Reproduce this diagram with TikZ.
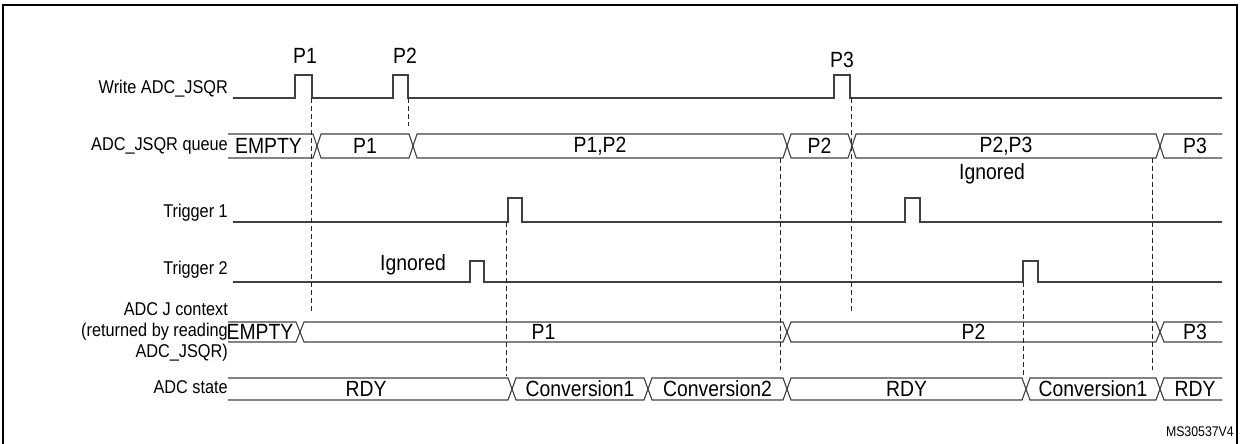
\documentclass[tikz,border=0pt]{standalone}
\usepackage{fontspec}
\setmainfont[FakeStretch=0.88]{Liberation Sans}
\usetikzlibrary{calc}

\tikzset{
	sig/.style={line width=1.1pt,black!75},
	guide/.style={dash pattern=on 5pt off 3pt,line width=1pt,black!85},
	lbl/.style={inner sep=0pt,anchor=east,align=right},
	txt/.style={inner sep=0pt,font=\fontsize{22}{24}\selectfont}
}

\begin{document}
\begin{tikzpicture}[x=1pt,y=-1pt,font=\fontsize{18.5}{21}\selectfont]

\useasboundingbox (0,0) rectangle (1240,444);
\draw [line width=1.5pt] (3,444) -- (3,5) -- (1237,5) -- (1237,444);

% row labels
\node [lbl] (lw) at (228,89) {Write ADC\_JSQR};
\node [lbl] (lq) at (228,146) {ADC\_JSQR queue};
\node [lbl] (lt1) at (228,213) {Trigger 1};
\node [lbl] (lt2) at (228,270) {Trigger 2};
\node [lbl] (lc) at (228,332) {ADC J context\\(returned by reading\\ADC\_JSQR)};
\node [lbl] (ls) at (228,387) {ADC state};

% write pulses
\draw [sig] (233,98) -| (295,75) -| (312,98) -| (393,75) -| (408,98)
	-| (834,75) -| (850,98) -- (1222,98);
\node [txt] (p1) at (305,56) {P1};
\node [txt] (p2) at (405,56) {P2};
\node [txt] (p3) at (842,60) {P3};

% triggers
\draw [sig] (233,222) -| (508,198) -| (522,222) -| (905,198) -| (920,222) -- (1222,222);
\draw [sig] (233,282) -| (470,261) -| (484,282) -| (1023,261) -| (1038,282) -- (1222,282);
\node [txt] (ig2) at (413,265) {Ignored};
\node [txt] (ig1) at (992,174) {Ignored};

% buses
\begin{scope}
\clip (228,100) rectangle (1222,410);
\foreach \a/\b/\t/\n in {220/317/EMPTY/q0,317/413/P1/q1,413/787/{P1,P2}/q2,787/852/P2/q3,852/1160/{P2,P3}/q4,1160/1230/P3/q5} {
	\draw [sig] (\a,146) -- (\a+4,134) -- (\b-4,134) -- (\b,146) -- (\b-4,158) -- (\a+4,158) -- cycle;
	\node [txt] (\n) at ($(\a,146)!.5!(\b,146)$) {\t};
}
\foreach \a/\b/\t/\n in {220/300/EMPTY/c0,300/787/P1/c1,787/1160/P2/c2,1160/1230/P3/c3} {
	\draw [sig] (\a,332) -- (\a+4,322) -- (\b-4,322) -- (\b,332) -- (\b-4,342) -- (\a+4,342) -- cycle;
	\node [txt] (\n) at ($(\a,332)!.5!(\b,332)$) {\t};
}
\foreach \a/\b/\t/\n in {220/512/RDY/s0,512/648/Conversion1/s1,648/787/Conversion2/s2,787/1026/RDY/s3,1026/1160/Conversion1/s4,1160/1230/RDY/s5} {
	\draw [sig] (\a,389) -- (\a+4,378) -- (\b-4,378) -- (\b,389) -- (\b-4,400) -- (\a+4,400) -- cycle;
	\node [txt] (\n) at ($(\a,389)!.5!(\b,389)$) {\t};
}
\end{scope}

% guide lines
\coordinate (g1a) at (311,98);  \coordinate (g1b) at (311,313);
\coordinate (g2a) at (408,98);  \coordinate (g2b) at (408,126);
\coordinate (g3a) at (851,98);  \coordinate (g3b) at (851,313);
\coordinate (g4a) at (506,222); \coordinate (g4b) at (506,376);
\coordinate (g5a) at (780,158); \coordinate (g5b) at (780,370);
\coordinate (g6a) at (1023,282); \coordinate (g6b) at (1023,376);
\coordinate (g7a) at (1152,158); \coordinate (g7b) at (1152,370);
\foreach \g in {1,...,7} {
	\draw [guide] (g\g a) -- (g\g b);
}

\node [inner sep=0pt,anchor=east,font=\fontsize{14}{16}\selectfont] (ms) at (1234,432) {MS30537V4};

\end{tikzpicture}
\end{document}
